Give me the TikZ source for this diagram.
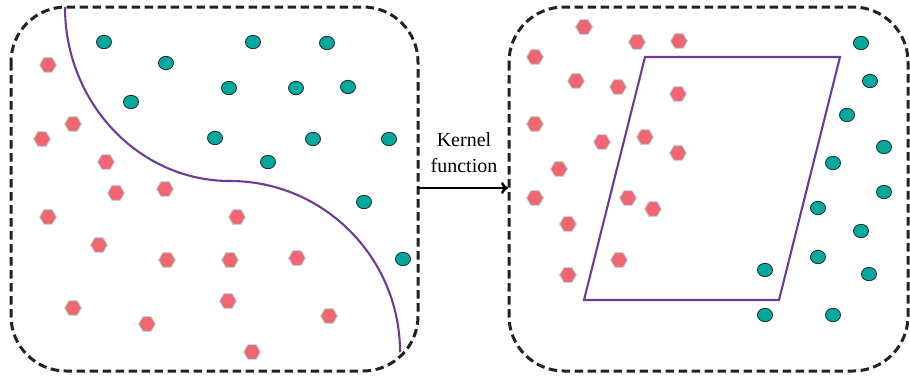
\documentclass[tikz,border=0pt]{standalone}
\usepackage{fontspec}
\setmainfont{Liberation Serif}
\usetikzlibrary{arrows.meta}
\definecolor{hexfill}{HTML}{F26571}
\definecolor{hexline}{HTML}{A8DCD8}
\definecolor{dotfill}{HTML}{00A99D}
\definecolor{dotline}{HTML}{1E2A28}
\definecolor{bound}{HTML}{6B3A9B}
\definecolor{boxline}{HTML}{222222}
\tikzset{
  panel/.style={draw=boxline, line width=3bp, dash pattern=on 8.5bp off 4.5bp, rounded corners=55bp},
  boundary/.style={draw=bound, line width=2.1bp},
  hexmark/.style={fill=hexfill, draw=hexline, line width=0.9bp},
  dotmark/.style={fill=dotfill, draw=dotline, line width=0.8bp},
  kernarrow/.style={draw=black, line width=2.5bp, -{To[length=7bp,width=12bp,line width=2.5bp]}},
  lbl/.style={font=\fontsize{20bp}{26bp}\selectfont, align=center, inner sep=0pt}
}
\newcommand{\hexat}[2]{\path[hexmark] (#1,#2) ++(8.4,0) -- ++(120:8.4) -- ++(180:8.4) -- ++(240:8.4) -- ++(300:8.4) -- ++(0:8.4) -- cycle;}
\newcommand{\dotat}[2]{\path[dotmark] (#1,#2) ellipse [x radius=7.5, y radius=6.7];}
\begin{document}
\begin{tikzpicture}[x=1bp, y=-1bp]
\useasboundingbox (0,0) rectangle (910,379);
% panels
\draw[panel] (11,7) rectangle (418,371);
\draw[panel] (509,7) rectangle (908,371);
% left boundary curve
\draw[boundary] (65,7) .. controls (65,103) and (139,181) .. (230,181)
  .. controls (324,181) and (400,258) .. (400,352);
% right parallelogram
\draw[boundary] (645,57) -- (840,57) -- (779,300) -- (584,300) -- cycle;
% left teal dots
\foreach \x/\y in {104/42, 253/42, 327/43, 166/63, 229/88, 296/88, 348/87, 131/102, 215/138, 313/139, 389/139, 268/162, 364/202, 403/259}
  {\dotat{\x}{\y}}
% left pink hexagons
\foreach \x/\y in {48/65, 73/124, 42/139, 106/162, 116/193, 165/189, 48/217, 237/217, 99/245, 167/260, 230/260, 297/258, 228/301, 73/308, 147/324, 329/316, 252/352}
  {\hexat{\x}{\y}}
% right pink hexagons
\foreach \x/\y in {584/27, 637/42, 679/41, 535/57, 576/81, 618/87, 678/94, 535/124, 602/142, 645/137, 678/153, 559/169, 535/198, 628/198, 653/209, 568/224, 619/260, 568/275}
  {\hexat{\x}{\y}}
% right teal dots
\foreach \x/\y in {861/43, 870/81, 847/115, 884/147, 833/163, 884/192, 818/208, 861/231, 818/257, 869/274, 765/270, 765/315, 833/315}
  {\dotat{\x}{\y}}
% arrow and label
\coordinate (src) at (418,188);
\coordinate (dst) at (508,188);
\draw[kernarrow] (src) -- (dst);
\node[lbl, anchor=base] (klabel) at (464,146) {Kernel};
\node[lbl, anchor=base] (flabel) at (464,172) {function};
\end{tikzpicture}
\end{document}
